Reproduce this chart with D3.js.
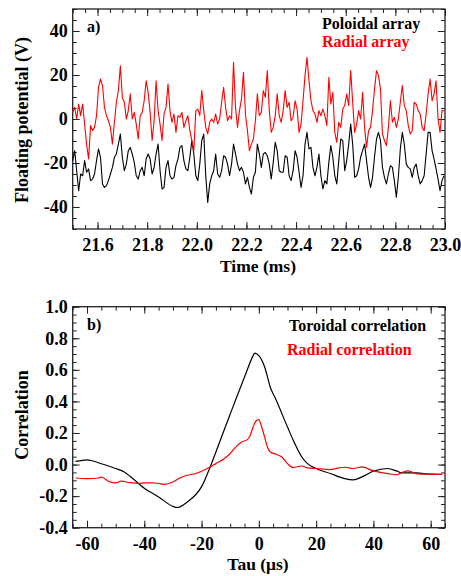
<!DOCTYPE html>
<html>
<head>
<meta charset="utf-8">
<script src="https://cdn.jsdelivr.net/npm/d3@7"></script>
<style>
body { margin: 0; background: #fff; }
svg text { font-family: "Liberation Serif", "Times New Roman", serif; font-weight: bold; }
.frame { fill: none; stroke: #222; stroke-width: 1.3; }
.tick line { stroke: #222; stroke-width: 1; }
.domain { display: none; }
</style>
</head>
<body>
<div id="chart"></div>
<script>
// panel a) floating potential, one sample every 0.008 ms from 21.5 ms
const timeStart = 21.5
const timeStep = 0.008
const poloidal = [
  -18.9, -14.4, -23.5, -32.6, -25.0, -25.8, -18.9, -24.2, -22.7, -28.0,
  -27.3, -25.0, -18.9, -13.6, -17.4, -29.5, -31.1, -30.3, -28.0, -25.0,
  -22.0, -17.4, -15.9, -11.4, -6.8, -17.4, -23.5, -20.5, -14.4, -12.9,
  -15.9, -19.7, -25.8, -27.3, -23.5, -22.0, -25.8, -18.2, -15.9, -18.2,
  -25.0, -22.0, -15.9, -11.4, -23.5, -31.8, -31.1, -22.0, -18.9, -25.8,
  -27.3, -26.5, -21.2, -18.2, -12.9, -12.1, -18.9, -22.7, -23.5, -17.4,
  -9.8, -15.9, -25.8, -28.0, -20.5, -9.8, -6.8, -25.8, -37.9, -29.5,
  -25.8, -23.5, -15.9, -25.0, -26.5, -23.5, -16.7, -17.4, -20.5, -25.8,
  -20.5, -11.4, -15.9, -20.5, -23.5, -22.0, -24.2, -29.5, -26.5, -31.1,
  -34.1, -26.5, -24.2, -11.4, -15.9, -22.0, -15.9, -15.2, -16.7, -20.5,
  -27.3, -19.7, -10.6, -14.4, -23.5, -24.2, -24.2, -16.7, -17.4, -25.8,
  -28.0, -23.5, -14.4, -17.4, -24.2, -31.1, -25.8, -11.4, -6.1, -13.6,
  -12.9, -22.0, -25.8, -22.0, -15.9, -25.8, -31.8, -28.0, -29.5, -19.7,
  -12.1, -17.4, -25.8, -29.5, -18.9, -9.1, -9.8, -23.5, -18.9, -11.4,
  -2.3, -11.4, -26.5, -25.8, -22.7, -17.4, -14.4, -11.4, -18.9, -26.5,
  -31.1, -26.5, -17.4, -9.1, -6.1, -9.8, -22.0, -26.5, -29.5, -25.0,
  -21.2, -22.0, -28.0, -35.6, -26.5, -13.6, -6.1, -11.4, -20.5, -22.0,
  -22.7, -26.5, -22.0, -20.5, -25.8, -29.5, -28.0, -25.8, -15.9, -6.1,
  -6.1, -14.4, -18.2, -22.7, -27.3, -32.6, -28.0, -25.8
]
const radial = [
  3.0, 5.3, 0, 6.8, 1.5, 6.8, -2.3, -11.4, -18.2, -3.0,
  -5.3, -3.8, 1.5, 14.4, 18.2, 15.2, 5.3, 1.5, -0.8, -3.8,
  -11.4, -1.5, 7.6, 12.9, 24.2, 9.8, 7.6, 0, 3.8, 11.4,
  0, 3.0, -2.3, -9.1, 1.5, 3.0, 8.3, 17.4, 12.1, 3.0,
  -9.8, -0.8, 17.4, 3.8, -2.3, -9.8, 2.3, 5.3, 15.9, 3.8,
  -1.5, 2.3, -6.1, 1.5, 0.8, 3.0, -3.8, -0.8, 1.5, -5.3,
  -9.8, -14.4, 3.8, 4.5, 1.5, 12.9, 3.8, -3.8, -6.8, -1.5,
  0, -1.5, 2.3, -2.3, 0, 7.6, 14.4, 5.3, -0.8, 1.5,
  0, 25.8, 5.3, -3.8, 3.8, 9.1, 21.2, 2.3, -5.3, -14.4,
  -11.4, -9.1, -0.8, 11.4, 1.5, 3.0, 12.9, 9.8, 22.0, 3.8,
  -6.1, -3.8, 1.5, 11.4, 1.5, -1.5, 3.8, 12.9, 5.3, 7.6,
  -0.8, 0.8, 8.3, 4.5, -6.1, -2.3, 8.3, 19.7, 28.0, 17.4,
  8.3, 3.8, 2.3, -1.5, 3.8, 1.5, 4.5, 1.5, -3.0, 18.9,
  6.8, 12.1, -6.1, -10.6, -1.5, -3.8, 4.5, 6.1, 11.4, 6.1,
  22.0, 7.6, -6.1, -2.3, 3.8, 0, 12.1, -3.8, -12.9, -5.3,
  -3.8, 3.8, 13.6, 22.0, 19.7, 13.6, -6.8, -9.8, -12.1, -3.8,
  8.3, -1.5, 0.8, -3.8, 0, 7.6, 15.2, 6.1, 3.8, -3.0,
  -6.8, -5.3, 7.6, 6.8, 3.8, 2.3, -3.8, -5.3, 2.3, 11.4,
  18.2, 8.3, 11.4, 17.4, 0, -6.1, 3.8, 3.8
]

// panel b) correlations vs delay (µs)
const tauToroidal = [-64, -60, -55, -50, -47, -45, -40, -35, -30, -28.5, -25, -20, -17, -15, -10, -5, -2, -1.5, 0, 2, 4, 6, 10, 12, 15, 17, 20, 25, 30, 33, 36, 40, 45, 48, 50, 55, 60, 64]
const corrToroidal = [0.02, 0.03, 0.005, -0.025, -0.047, -0.074, -0.15, -0.205, -0.265, -0.272, -0.237, -0.14, -0.015, 0.08, 0.32, 0.555, 0.69, 0.706, 0.69, 0.62, 0.49, 0.41, 0.238, 0.154, 0.048, 0.006, -0.025, -0.057, -0.089, -0.097, -0.078, -0.042, -0.025, -0.04, -0.053, -0.053, -0.061, -0.062]
const tauRadial = [-64, -60, -56, -55, -52, -50, -48, -45, -42, -40, -37, -35, -33, -30, -28, -25, -22, -20, -17, -15, -12, -10, -8, -6, -4, -3, -2, -1, 0, 1, 2, 3, 4, 6, 8, 10, 12, 15, 17, 20, 25, 28, 30, 33, 36, 40, 45, 48, 50, 52, 55, 58, 60, 64]
const corrRadial = [-0.085, -0.089, -0.085, -0.08, -0.11, -0.116, -0.105, -0.115, -0.12, -0.116, -0.116, -0.12, -0.125, -0.11, -0.089, -0.068, -0.057, -0.042, -0.015, 0.006, 0.038, 0.07, 0.112, 0.143, 0.158, 0.186, 0.238, 0.276, 0.285, 0.238, 0.175, 0.11, 0.08, 0.065, 0.048, 0.006, -0.019, -0.009, -0.021, -0.025, -0.032, -0.021, -0.017, -0.025, -0.015, -0.04, -0.057, -0.065, -0.05, -0.04, -0.057, -0.061, -0.061, -0.063]

// tick labels
const timeTicks = [21.6, 21.8, 22.0, 22.2, 22.4, 22.6, 22.8, 23.0]
const potTicks = [-40, -20, 0, 20, 40]
const tauTicks = [-60, -40, -20, 0, 20, 40, 60]
const corrTicks = [-0.4, -0.2, 0.0, 0.2, 0.4, 0.6, 0.8, 1.0]

const serif = '"Liberation Serif", "Times New Roman", serif'
const width = 461
const height = 576
const svg = d3.select("#chart").append("svg").attr("width", width).attr("height", height)
  .style("font-family", serif)

//dibuja un panel con marco y ticks hacia dentro en los cuatro lados
function panel(box, x, y, xMajor, xMinor, yMajor, yMinor, xFmt, yFmt, labelPad) {
  const g = svg.append("g")
  const sides = [
    [d3.axisBottom, `translate(0,${box.bottom})`, x, xMajor, xMinor, xFmt],
    [d3.axisTop, `translate(0,${box.top})`, x, xMajor, xMinor, null],
    [d3.axisLeft, `translate(${box.left},0)`, y, yMajor, yMinor, yFmt],
    [d3.axisRight, `translate(${box.right},0)`, y, yMajor, yMinor, null]
  ]
  sides.forEach(([axis, tr, sc, major, minor, fmt]) => {
    g.append("g").attr("transform", tr)
      .call(axis(sc).tickValues(minor).tickSize(-4).tickSizeOuter(0).tickFormat(""))
    const a = g.append("g").attr("transform", tr)
      .call(axis(sc).tickValues(major).tickSize(-7).tickSizeOuter(0)
        .tickPadding(axis === d3.axisBottom ? labelPad : 5)
        .tickFormat(fmt ? fmt : ""))
    a.attr("font-family", serif).attr("font-size", 18)
    a.selectAll("text").attr("fill", "#000").style("font-family", serif).style("font-size", "18px")
  })
  g.append("rect").attr("class", "frame")
    .attr("x", box.left).attr("y", box.top)
    .attr("width", box.right - box.left).attr("height", box.bottom - box.top)
  return g
}

// ---------------- panel a)
const boxA = {left: 72.7, right: 445, top: 9, bottom: 229}
const xA = d3.scaleLinear().domain([21.5, 23.0]).range([boxA.left, boxA.right])
const yA = d3.scaleLinear().domain([-50, 50]).range([boxA.bottom, boxA.top])
panel(boxA, xA, yA, timeTicks, d3.range(21.5, 23.001, 0.05), potTicks, d3.range(-50, 50.1, 5),
  d => d.toFixed(1), d => d.toFixed(0), 9.7)

const lineA = d3.line().x((d, i) => xA(timeStart + i * timeStep)).y(d => yA(d))
svg.append("path").datum(poloidal).attr("d", lineA)
  .attr("fill", "none").attr("stroke", "#000").attr("stroke-width", 1.1).attr("stroke-linejoin", "round")
svg.append("path").datum(radial).attr("d", lineA)
  .attr("fill", "none").attr("stroke", "#ff0000").attr("stroke-width", 1.1).attr("stroke-linejoin", "round")

svg.append("text").attr("x", 87).attr("y", 32).style("font-size", "16px").text("a)")
svg.append("text").attr("x", 322).attr("y", 29).style("font-size", "16px").attr("fill", "#000").text("Poloidal array")
svg.append("text").attr("x", 322).attr("y", 47).style("font-size", "16px").attr("fill", "#ff0000").text("Radial array")
svg.append("text").attr("transform", "translate(28,120) rotate(-90)").attr("text-anchor", "middle")
  .style("font-size", "18px").text("Floating potential (V)")
svg.append("text").attr("x", 258).attr("y", 272).attr("text-anchor", "middle")
  .style("font-size", "17.5px").text("Time (ms)")

// ---------------- panel b)
const boxB = {left: 72.7, right: 445, top: 306.7, bottom: 527.7}
const xB = d3.scaleLinear().domain([-65, 65]).range([boxB.left, boxB.right])
const yB = d3.scaleLinear().domain([-0.4, 1.0]).range([boxB.bottom, boxB.top])
panel(boxB, xB, yB, tauTicks, d3.range(-65, 65.1, 5), corrTicks, d3.range(-0.4, 1.001, 0.05),
  d => d.toFixed(0), d => d.toFixed(1), 10)

const lineB = d3.line().curve(d3.curveMonotoneX).x(d => xB(d[0])).y(d => yB(d[1]))
svg.append("path").datum(d3.zip(tauToroidal, corrToroidal)).attr("d", lineB)
  .attr("fill", "none").attr("stroke", "#000").attr("stroke-width", 1.2)
svg.append("path").datum(d3.zip(tauRadial, corrRadial)).attr("d", lineB)
  .attr("fill", "none").attr("stroke", "#ff0000").attr("stroke-width", 1.2)

svg.append("text").attr("x", 87).attr("y", 330).style("font-size", "16px").text("b)")
svg.append("text").attr("x", 289).attr("y", 331).style("font-size", "16px").attr("fill", "#000").text("Toroidal correlation")
svg.append("text").attr("x", 287).attr("y", 355).style("font-size", "16px").attr("fill", "#ff0000").text("Radial correlation")
svg.append("text").attr("transform", "translate(28,415) rotate(-90)").attr("text-anchor", "middle")
  .style("font-size", "18px").text("Correlation")
svg.append("text").attr("x", 258).attr("y", 570).attr("text-anchor", "middle")
  .style("font-size", "17.5px").text("Tau (\u03bcs)")
</script>
</body>
</html>
